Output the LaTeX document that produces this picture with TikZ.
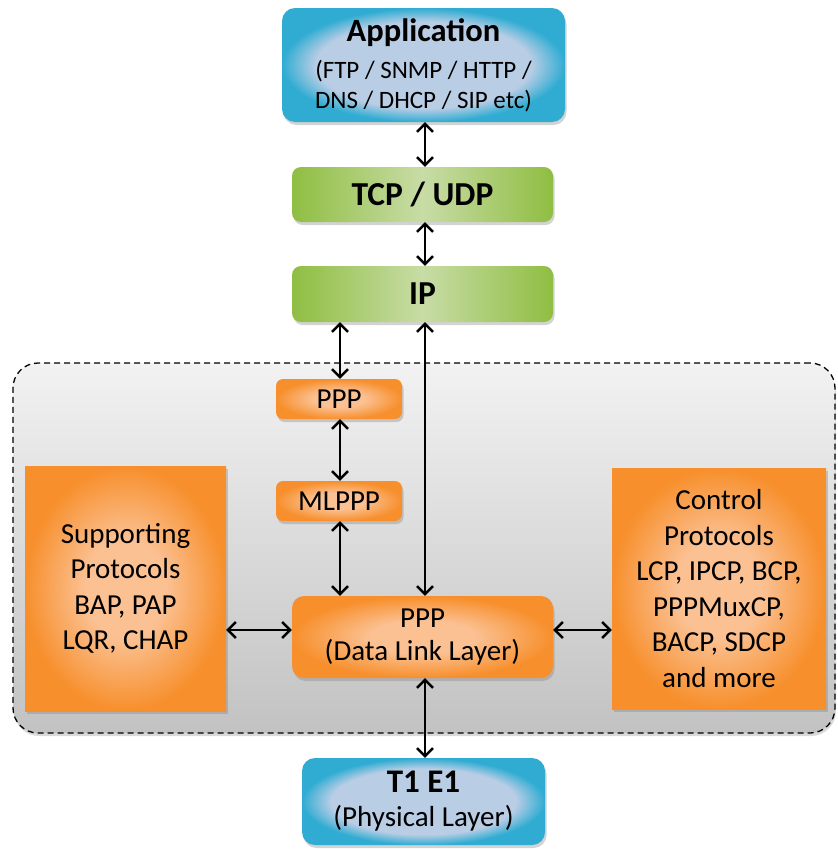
\documentclass[tikz,border=0pt]{standalone}
\usepackage{fontspec}
\setmainfont{Carlito}
\usetikzlibrary{arrows.meta,shadows,calc}
\definecolor{bluein}{HTML}{B9CDE5}
\definecolor{blueout}{HTML}{30ACD2}
\definecolor{greenout}{HTML}{8FBE42}
\definecolor{greenin}{HTML}{C8DCA6}
\definecolor{orin}{HTML}{FBC193}
\definecolor{orout}{HTML}{F78F2C}
\definecolor{graytop}{HTML}{F2F2F2}
\definecolor{graybot}{HTML}{C2C2C2}
\pgfdeclareradialshading{bluerad}{\pgfpoint{0bp}{0bp}}{color(0bp)=(bluein); color(19bp)=(bluein); color(25bp)=(blueout); color(50bp)=(blueout)}
\pgfdeclareradialshading{orrad}{\pgfpoint{0bp}{0bp}}{color(0bp)=(orin); color(10bp)=(orin); color(25bp)=(orout); color(50bp)=(orout)}
\tikzset{
  box/.style={draw=none, inner sep=0pt, align=center, text=black,
    drop shadow={shadow xshift=1.5pt, shadow yshift=-3pt, opacity=0.35}},
  bluebox/.style={box, rounded corners=13pt, shading=bluerad},
  greenbox/.style={box, rounded corners=9pt, left color=greenout, right color=greenout, middle color=greenin},
  orbox/.style={box, shading=orrad},
  link/.style={line width=2.4pt, {Straight Barb[length=8pt,width=16pt,line width=2.4pt]}-{Straight Barb[length=8pt,width=16pt,line width=2.4pt]}},
  mid/.style={font=\fontsize{29}{35.5}\selectfont},
  head/.style={font=\fontsize{33.5}{36}\selectfont\bfseries},
}
\begin{document}
\begin{tikzpicture}[x=1pt,y=-1pt]
\useasboundingbox (0,0) rectangle (838,849);
% container
\node[draw=black, line width=1.3pt, dash pattern=on 6pt off 4pt, rounded corners=25pt,
      top color=graytop, bottom color=graybot, minimum width=822pt, minimum height=370pt,
      drop shadow={shadow xshift=1pt, shadow yshift=-3pt, opacity=0.3}] (cont) at (424,548) {};
% boxes
\node[bluebox, minimum width=283pt, minimum height=114pt, font=\fontsize{25}{30}\selectfont] (app) at (423.5,65)
  {{\fontsize{32.5}{30}\selectfont\bfseries Application}\\[7pt]
   (FTP / SNMP / HTTP /\\
   DNS / DHCP / SIP etc)};
\node[greenbox, minimum width=261pt, minimum height=55pt, head] (tcp) at (422.5,194.5) {TCP / UDP};
\node[greenbox, minimum width=261pt, minimum height=56pt, head] (ip) at (422.5,294) {IP};
\node[orbox, rounded corners=7pt, minimum width=126pt, minimum height=40pt, mid] (ppp) at (339,399) {PPP};
\node[orbox, rounded corners=7pt, minimum width=126pt, minimum height=40pt, mid] (mlppp) at (339,501) {MLPPP};
\node[orbox, minimum width=201pt, minimum height=245pt, mid] (sup) at (125.5,588.5)
  {Supporting\\Protocols\\BAP, PAP\\LQR, CHAP};
\node[orbox, rounded corners=12pt, minimum width=261pt, minimum height=82pt, font=\fontsize{29}{33}\selectfont] (dll) at (422.5,637)
  {PPP\\(Data Link Layer)};
\node[orbox, minimum width=214pt, minimum height=241pt, mid] (ctrl) at (719,588.5)
  {Control\\Protocols\\LCP, IPCP, BCP,\\PPPMuxCP,\\BACP, SDCP\\and more};
\node[bluebox, minimum width=243pt, minimum height=87pt, font=\fontsize{29}{34}\selectfont] (phy) at (423.5,801.5)
  {{\fontsize{33}{34}\selectfont\bfseries T1 E1}\\
   (Physical Layer)};
% connectors
\draw[link] (app.south -| 425,0) -- (tcp.north -| 425,0);
\draw[link] (tcp.south -| 425,0) -- (ip.north -| 425,0);
\draw[link] (ip.south -| 340,0) -- (ppp.north -| 340,0);
\draw[link] (ip.south -| 425,0) -- (dll.north -| 425,0);
\draw[link] (ppp.south -| 340,0) -- (mlppp.north -| 340,0);
\draw[link] (mlppp.south -| 340,0) -- (dll.north -| 340,0);
\draw[link] (sup.east |- 0,630) -- (dll.west |- 0,630);
\draw[link] (dll.east |- 0,630) -- (ctrl.west |- 0,630);
\draw[link] (dll.south -| 425,0) -- (phy.north -| 425,0);
\end{tikzpicture}
\end{document}
